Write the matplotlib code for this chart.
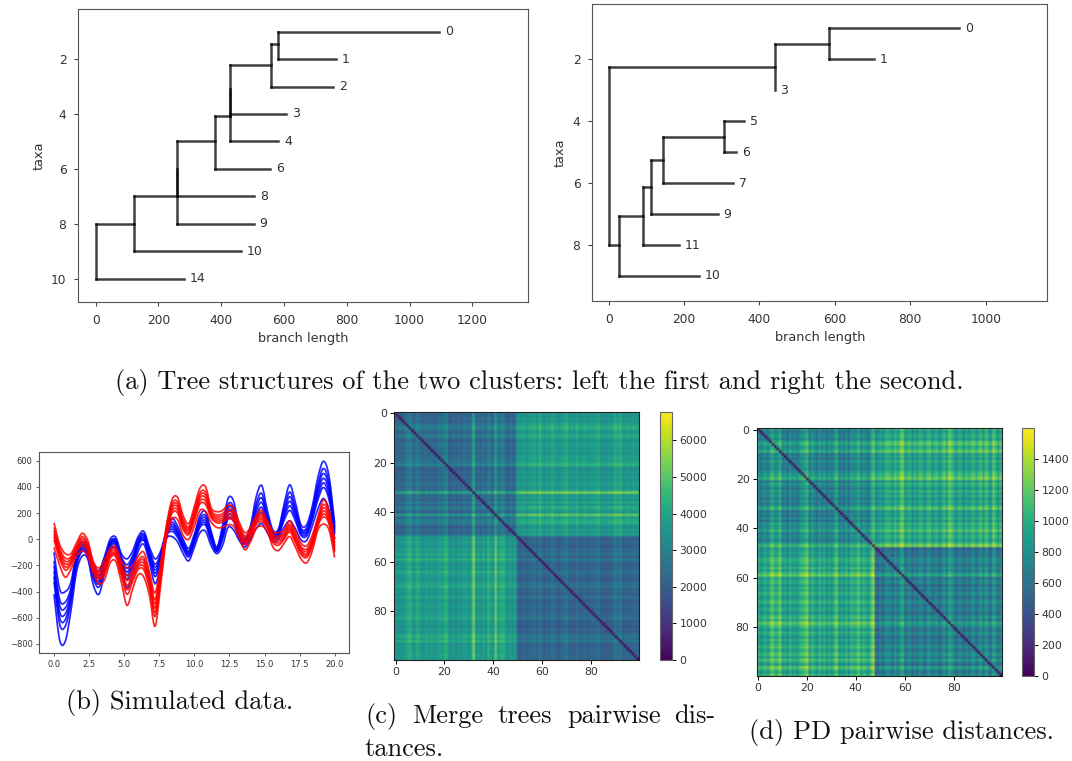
import numpy as np
import matplotlib
matplotlib.use("Agg")
import matplotlib.pyplot as plt
from matplotlib.path import Path
from matplotlib.patches import PathPatch

W, H = 1072, 761
INK = "#333333"
plt.rcParams.update({"font.family": "DejaVu Sans", "text.color": INK, "axes.labelcolor": INK,
                     "xtick.labelcolor": INK, "ytick.labelcolor": INK, "axes.edgecolor": "#555555"})

# ---- tree 1: horizontal (y, x0, x1) and vertical (x, y0, y1) branches, leaves (label, x, y)
tree1_h_y  = [1, 2, 1.45, 3, 2.2, 4, 5, 4.07, 6, 5, 7, 8, 8, 9, 10]
tree1_h_x0 = [581, 581, 558, 558, 428, 428, 428, 380, 380, 260, 122, 260, 0, 122, 0]
tree1_h_x1 = [1095, 765, 581, 757, 558, 608, 582, 428, 557, 380, 505, 503, 122, 463, 283]
tree1_v_x  = [581, 558, 428, 428, 380, 260, 260, 122, 0]
tree1_v_y0 = [1, 1.45, 2.2, 3.1, 4.07, 5, 6, 7, 8]
tree1_v_y1 = [2, 3, 5, 4.07, 6, 8, 7, 9, 10]
tree1_labels = ["0", "1", "2", "3", "4", "6", "8", "9", "10", "14"]
tree1_leaf_x = [1095, 765, 757, 608, 582, 557, 505, 503, 463, 283]
tree1_leaf_y = [1, 2, 3, 4, 5, 6, 7, 8, 9, 10]

# ---- tree 2
tree2_h_y  = [1, 2, 1.5, 2.25, 4, 5, 4.5, 6, 5.25, 7, 6.12, 8, 7.05, 9, 8]
tree2_h_x0 = [585, 585, 440, 0, 305, 305, 143, 143, 113, 113, 92, 92, 28, 28, 0]
tree2_h_x1 = [930, 703, 585, 440, 360, 338, 305, 330, 143, 290, 113, 187, 92, 240, 28]
tree2_v_x  = [585, 440, 0, 305, 143, 113, 92, 28]
tree2_v_y0 = [1, 1.5, 2.25, 4, 4.5, 5.25, 6.12, 7.05]
tree2_v_y1 = [2, 3, 8, 5, 6, 7, 8, 9]
tree2_labels = ["0", "1", "3", "5", "6", "7", "9", "11", "10"]
tree2_leaf_x = [930, 703, 440, 360, 338, 330, 290, 187, 240]
tree2_leaf_y = [1, 2, 3, 4, 5, 6, 7, 8, 9]

# ---- simulated curves: a representative subset of the lines
curve_x = [0, .4, .8, 1.2, 1.6, 2, 2.4, 2.8, 3.2, 3.6, 4, 4.4, 4.8, 5.2, 5.6, 6, 6.4, 6.8, 7.2, 7.6,
           8, 8.4, 8.8, 9.2, 9.6, 10, 10.4, 10.8, 11.2, 11.6, 12, 12.4, 12.8, 13.2, 13.6, 14, 14.4, 14.8, 15.2, 15.6,
           16, 16.4, 16.8, 17.2, 17.6, 18, 18.4, 18.8, 19.2, 19.6, 20]
blue_a = [-420, -770, -780, -550, -250, -130, -150, -350, -420, -260, -90, -70, -230, -370, -260, -90, -40, -180, -340, -200,
          0, 20, -20, -110, -165, -60, 50, 60, -50, -110, -50, 90, 70, -10, -60, 0, 80, 120, 50, -20,
          0, 90, 140, 80, -5, -10, 100, 230, 310, 220, 0]
blue_b = [-325, -650, -665, -485, -205, -95, -125, -300, -365, -220, -65, -45, -195, -305, -210, -55, -10, -145, -285, -165,
          20, 60, 15, -75, -135, -30, 90, 105, -15, -95, -5, 155, 135, 15, -40, 30, 150, 205, 100, 5,
          25, 145, 220, 140, 30, 25, 145, 300, 395, 300, 35]
blue_f = [-285, -600, -615, -455, -185, -80, -110, -280, -340, -205, -50, -35, -180, -275, -185, -40, 0, -130, -260, -150,
          28, 78, 30, -62, -122, -18, 105, 122, -2, -90, 12, 182, 162, 28, -30, 42, 180, 242, 122, 18,
          35, 168, 255, 165, 45, 40, 162, 330, 430, 332, 50]
blue_c = [-245, -555, -570, -430, -170, -70, -100, -260, -320, -190, -40, -25, -165, -250, -165, -30, 15, -115, -235, -140,
          35, 95, 45, -50, -110, -5, 120, 140, 10, -85, 30, 210, 190, 40, -20, 55, 210, 280, 145, 30,
          45, 190, 290, 190, 60, 55, 180, 360, 465, 365, 65]
blue_g = [-205, -505, -525, -400, -150, -55, -90, -240, -298, -172, -30, -15, -150, -222, -145, -15, 28, -100, -212, -125,
          42, 112, 60, -35, -100, 8, 138, 160, 25, -78, 50, 238, 218, 50, -12, 68, 240, 315, 165, 40,
          55, 212, 325, 215, 72, 70, 200, 390, 502, 398, 80]
blue_d = [-165, -460, -480, -375, -130, -40, -80, -220, -275, -155, -20, -5, -135, -195, -125, 0, 40, -85, -190, -110,
          50, 130, 75, -20, -90, 20, 155, 180, 40, -70, 70, 265, 245, 60, -5, 80, 270, 350, 185, 50,
          65, 235, 360, 240, 85, 85, 220, 420, 540, 430, 95]
blue_e = [-100, -380, -400, -330, -100, -20, -60, -190, -240, -130, 0, 15, -110, -150, -90, 20, 60, -60, -150, -90,
          60, 160, 100, 0, -70, 40, 180, 210, 60, -60, 100, 310, 290, 80, 10, 100, 320, 410, 220, 70,
          80, 270, 415, 280, 110, 110, 250, 470, 595, 480, 120]
red_a = [-60, -200, -290, -230, -130, -90, -130, -260, -340, -310, -180, -170, -330, -505, -380, -270, -290, -430, -665, -350,
         0, 150, 150, 30, 0, 100, 220, 210, 130, 90, 90, 110, 100, 10, -80, -20, 80, 100, 60, -60,
         -85, -30, 20, -60, -150, -180, -90, 70, 115, 70, -140]
red_b = [-5, -150, -235, -195, -100, -50, -95, -235, -305, -265, -145, -135, -280, -420, -325, -230, -235, -375, -590, -300,
         30, 195, 200, 75, 35, 145, 270, 265, 165, 125, 130, 155, 140, 45, -40, 15, 110, 135, 85, -25,
         -45, 0, 55, -25, -115, -140, -55, 100, 170, 115, -100]
red_f = [18, -130, -212, -180, -88, -32, -80, -222, -290, -248, -132, -122, -260, -385, -302, -212, -210, -352, -558, -278,
         42, 215, 222, 92, 50, 162, 292, 290, 178, 140, 145, 172, 158, 60, -25, 28, 122, 150, 95, -10,
         -28, 12, 70, -10, -100, -125, -40, 112, 192, 132, -82]
red_c = [40, -110, -190, -165, -75, -15, -65, -210, -275, -230, -120, -110, -240, -350, -280, -195, -185, -330, -525, -255,
         55, 235, 245, 110, 65, 180, 315, 315, 190, 155, 160, 190, 175, 75, -10, 40, 135, 165, 105, 5,
         -10, 25, 85, 5, -85, -110, -25, 125, 215, 150, -65]
red_g = [65, -90, -168, -150, -62, 2, -50, -200, -260, -210, -105, -95, -220, -315, -258, -178, -162, -308, -492, -235,
         68, 252, 265, 130, 80, 200, 335, 338, 205, 170, 178, 210, 192, 90, 8, 55, 148, 180, 115, 20,
         8, 38, 100, 20, -70, -92, -10, 138, 240, 170, -48]
red_d = [90, -70, -145, -135, -50, 20, -35, -190, -245, -190, -90, -80, -200, -280, -235, -160, -140, -285, -460, -215,
         80, 270, 285, 150, 95, 220, 355, 360, 220, 185, 195, 230, 210, 105, 25, 70, 160, 195, 125, 35,
         25, 50, 115, 35, -55, -75, 5, 150, 265, 190, -30]
red_e = [125, -40, -110, -110, -30, 45, -10, -170, -220, -160, -70, -60, -170, -220, -200, -130, -100, -250, -410, -180,
         100, 300, 320, 180, 120, 250, 390, 400, 240, 210, 220, 260, 240, 130, 50, 90, 180, 220, 140, 60,
         50, 70, 140, 60, -30, -50, 30, 170, 300, 220, 0]

# ---- heatmaps: cells too small to read one by one, so they are estimated from the stripe
# strength read for each index and the level read for each block (0 on the diagonal)
merge_stripes = [150, -200, 70, -150, 150, 420, 770, 150, -70, 630,
                 210, -150, 70, 210, -70, 150, -150, 70, 280, 150,
                 420, 770, -280, -150, 70, -210, 150, -150, 210, 150,
                 -70, 150, 1750, -70, 150, -150, 420, -210, 700, 150,
                 -150, 1500, 70, 490, 700, 150, -280, 210, -150, 280,
                 150, -150, 210, 70, -150, 280, 150, 490, -70, 700,
                 70, -150, 210, -70, 560, 150, 70, -150, 210, 280,
                 630, -70, 150, -150, 420, 70, -150, 210, 150, -70,
                 150, 70, 280, 490, -150, 70, -280, 150, -70, 210,
                 630, 150, 700, -150, 70, 150, -70, 210, 150, 70]
merge_blocks = [[2200, 3500], [3500, 2000]]
pd_stripes = [130, -80, 30, 100, -50, 190, 290, 60, 140, 320,
              -50, 60, -100, 130, -30, 50, -60, 100, 160, 210,
              350, -60, 160, 50, -80, 140, -30, 100, -100, 60,
              -50, 100, 290, -80, 30, -60, 110, -100, 160, 60,
              100, 270, -30, 140, 60, -50, 190, 400, -100, -60,
              30, -80, 100, 130, 60, -50, 160, -30, 210, 320,
              -60, 50, 110, -100, 80, -50, 140, 60, -80, 100,
              160, -60, 50, 100, -110, 60, 180, -30, 300, 190,
              50, -80, 130, 60, -100, 110, -50, 80, 160, -60,
              100, 190, -50, 240, 60, -100, 290, 100, -50, 140]
pd_blocks = [[640, 850], [850, 590]]
merge_vmax, pd_vmax = 6780, 1600
merge_cticks = [0, 1000, 2000, 3000, 4000, 5000, 6000]
pd_cticks = [0, 200, 400, 600, 800, 1000, 1200, 1400]
heat_ticks = [0, 20, 40, 60, 80]


def px_axes(x0, y0, x1, y1):
    return fig.add_axes([x0 / W, 1 - y1 / H, (x1 - x0) / W, (y1 - y0) / H])


def draw_tree(ax, hy, hx0, hx1, vx, vy0, vy1, labels, lx, ly, xlim, ylim, xticks, yticks):
    style = dict(color="black", alpha=0.75, lw=1.8, solid_capstyle="projecting")
    for y, a, b in zip(hy, hx0, hx1):
        ax.plot([a, b], [y, y], **style)
    for x, a, b in zip(vx, vy0, vy1):
        ax.plot([x, x], [a, b], **style)
    for s, x, y in zip(labels, lx, ly):
        ax.annotate(s, (x, y), xytext=(4, 0), textcoords="offset points", va="center", fontsize=9)
    ax.set_xlim(*xlim)
    ax.set_ylim(*ylim)
    ax.set_xticks(xticks)
    ax.set_yticks(yticks)
    ax.tick_params(labelsize=8.8, length=3, width=0.8, color="#444444", pad=5.5)
    ax.set_xlabel("branch length", fontsize=9.3, labelpad=4)
    ax.set_ylabel("taxa", fontsize=9.3, labelpad=4)


def smooth_curve(ax, xs, ys, color):
    """Draw the read points as one line with rounded corners, passing through each point."""
    p = np.column_stack([xs, ys]).astype(float)
    q = np.vstack([p[0], p, p[-1]])
    verts, codes = [p[0]], [Path.MOVETO]
    for i in range(1, len(q) - 2):
        verts += [q[i] + (q[i + 1] - q[i - 1]) / 6, q[i + 1] - (q[i + 2] - q[i]) / 6, q[i + 1]]
        codes += [Path.CURVE4] * 3
    ax.add_patch(PathPatch(Path(verts, codes), fill=False, edgecolor=color, lw=1.25, alpha=0.85))


def build_matrix(stripes, blocks, split):
    s = np.array(stripes, dtype=float)
    group = (np.arange(len(s)) >= split).astype(int)
    m = np.array(blocks, dtype=float)[group[:, None], group[None, :]] + s[:, None] + s[None, :]
    np.fill_diagonal(m, 0)
    return m


def draw_heat(box, cbox, matrix, vmax, cticks):
    ax = px_axes(*box)
    im = ax.imshow(matrix, cmap="viridis", vmin=0, vmax=vmax, aspect="auto", interpolation="bilinear")
    ax.set_xticks(heat_ticks)
    ax.set_yticks(heat_ticks)
    ax.tick_params(labelsize=7.8, length=2.6, width=0.7, pad=2.5)
    for sp in ax.spines.values():
        sp.set_edgecolor("#222222")
    cax = px_axes(*cbox)
    cb = fig.colorbar(im, cax=cax)
    cb.set_ticks(cticks)
    cb.ax.tick_params(labelsize=7.8, length=2.6, width=0.7, pad=2.5)
    cb.outline.set_edgecolor("#666666")


fig = plt.figure(figsize=(W / 100, H / 100), dpi=100)

draw_tree(px_axes(78.3, 9, 527.7, 301.7), tree1_h_y, tree1_h_x0, tree1_h_x1, tree1_v_x, tree1_v_y0, tree1_v_y1,
          tree1_labels, tree1_leaf_x, tree1_leaf_y, (-55.4, 1376.6), (10.83, 0.18),
          [0, 200, 400, 600, 800, 1000, 1200], [2, 4, 6, 8, 10])
draw_tree(px_axes(592.3, 4, 1047.3, 300.7), tree2_h_y, tree2_h_x0, tree2_h_x1, tree2_v_x, tree2_v_y0, tree2_v_y1,
          tree2_labels, tree2_leaf_x, tree2_leaf_y, (-43.5, 1163.4), (9.8, 0.21),
          [0, 200, 400, 600, 800, 1000], [2, 4, 6, 8])

ax = px_axes(39.3, 452, 348.7, 653)
for c in [blue_a, blue_b, blue_f, blue_c, blue_g, blue_d, blue_e]:
    smooth_curve(ax, curve_x, c, "blue")
for c in [red_a, red_b, red_f, red_c, red_g, red_d, red_e]:
    smooth_curve(ax, curve_x, c, "red")
ax.set_xlim(-1.05, 21)
ax.set_ylim(-869, 666)
ax.set_xticks([0, 2.5, 5, 7.5, 10, 12.5, 15, 17.5, 20])
ax.set_yticks([-800, -600, -400, -200, 0, 200, 400, 600])
ax.tick_params(labelsize=6, length=2, width=0.6, color="#444444", pad=2.8)

draw_heat((394.3, 412, 639, 659.7), (660, 412, 672.3, 659.7), build_matrix(merge_stripes, merge_blocks, 50),
          merge_vmax, merge_cticks)
draw_heat((756.7, 428.3, 1001.5, 675.7), (1021.7, 428.3, 1034.3, 675.7), build_matrix(pd_stripes, pd_blocks, 48),
          pd_vmax, pd_cticks)

cap = dict(family=["cmr10", "Liberation Serif"], fontsize=19, color="#111111", va="center", ha="left")
fig.text(115 / W, 1 - 382 / H, "(a) Tree structures of the two clusters: left the first and right the second.", **cap)
fig.text(66 / W, 1 - 703 / H, "(b) Simulated data.", **cap)
for word, px in zip(["(c)", "Merge", "trees", "pairwise", "dis-"], [365, 412, 497, 567, 674]):
    fig.text(px / W, 1 - 716 / H, word, **cap)
fig.text(364 / W, 1 - 749 / H, "tances.", **cap)
fig.text(749 / W, 1 - 732 / H, "(d) PD pairwise distances.", **cap)

fig.savefig("out.png", dpi=100)
